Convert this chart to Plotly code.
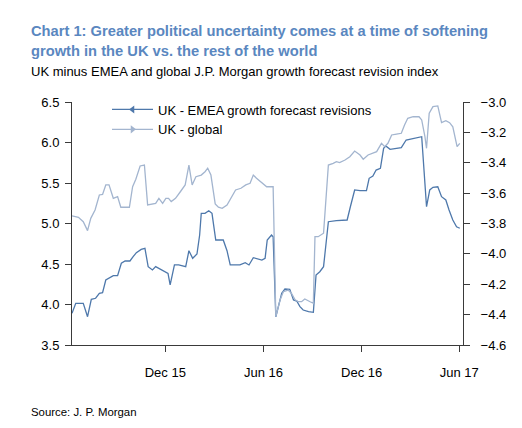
import plotly.graph_objects as go

# ---------------- data ----------------
emea_dates = ["2015-06-10","2015-06-17","2015-07-01","2015-07-09","2015-07-16","2015-07-24","2015-07-31","2015-08-06","2015-08-12","2015-08-18",
              "2015-08-26","2015-09-03","2015-09-10","2015-09-17","2015-09-26","2015-10-02","2015-10-08","2015-10-17","2015-10-24","2015-10-30",
              "2015-11-07","2015-11-13","2015-11-21","2015-11-30","2015-12-06","2015-12-10","2015-12-18","2015-12-26","2016-01-04","2016-01-08",
              "2016-01-14","2016-01-21","2016-01-29","2016-02-03","2016-02-06","2016-02-13","2016-02-20","2016-02-26","2016-03-04","2016-03-14",
              "2016-03-18","2016-03-25","2016-03-31","2016-04-09","2016-04-18","2016-04-28","2016-05-05","2016-05-13","2016-05-19","2016-05-29",
              "2016-06-04","2016-06-08","2016-06-16","2016-06-19","2016-06-24","2016-07-05","2016-07-11","2016-07-20","2016-07-27","2016-08-02",
              "2016-08-08","2016-08-14","2016-08-24","2016-09-02","2016-09-07","2016-09-14","2016-09-21","2016-09-27","2016-09-30","2016-10-15",
              "2016-11-04","2016-11-10","2016-11-18","2016-11-28","2016-12-10","2016-12-15","2016-12-22","2016-12-28","2017-01-05","2017-01-11",
              "2017-01-15","2017-01-23","2017-02-01","2017-02-13","2017-02-22","2017-03-01","2017-03-16","2017-03-23","2017-04-01","2017-04-07",
              "2017-04-13","2017-04-22","2017-04-29","2017-05-07","2017-05-13","2017-05-20","2017-05-27","2017-06-02"]
emea_values = [3.891,4.015,4.015,3.849,4.064,4.077,4.138,4.146,4.302,4.323,
               4.356,4.356,4.509,4.537,4.537,4.590,4.640,4.681,4.694,4.467,
               4.426,4.467,4.435,4.405,4.385,4.241,4.488,4.488,4.475,4.467,
               4.664,4.570,4.623,4.858,5.126,5.126,5.158,5.126,4.796,4.796,
               4.796,4.664,4.488,4.488,4.488,4.516,4.488,4.578,4.570,4.549,
               4.570,4.796,4.858,4.837,3.849,4.138,4.191,4.188,4.056,4.043,
               3.973,3.932,3.911,3.904,4.364,4.405,4.467,4.796,5.022,5.035,
               5.043,5.207,5.414,5.405,5.405,5.558,5.586,5.660,5.681,5.928,
               5.957,5.916,5.928,5.936,6.031,6.040,6.059,6.072,5.207,5.414,
               5.447,5.454,5.331,5.290,5.167,5.043,4.960,4.941]

global_dates = ["2015-06-10","2015-06-22","2015-07-01","2015-07-09","2015-07-15","2015-07-23","2015-07-31","2015-08-06","2015-08-12","2015-08-18",
                "2015-08-26","2015-09-03","2015-09-09","2015-09-20","2015-09-25","2015-10-01","2015-10-07","2015-10-15","2015-10-23","2015-10-29",
                "2015-11-05","2015-11-13","2015-11-19","2015-11-26","2015-12-02","2015-12-07","2015-12-12","2015-12-20","2015-12-29","2016-01-07",
                "2016-01-14","2016-01-20","2016-01-27","2016-02-06","2016-02-13","2016-02-18","2016-02-24","2016-03-03","2016-03-09","2016-03-16",
                "2016-03-25","2016-04-03","2016-04-10","2016-04-20","2016-04-29","2016-05-07","2016-05-13","2016-05-19","2016-05-29","2016-06-04",
                "2016-06-07","2016-06-19","2016-06-24","2016-07-02","2016-07-08","2016-07-17","2016-07-23","2016-07-30","2016-08-05","2016-08-11",
                "2016-08-17","2016-08-27","2016-09-02","2016-09-05","2016-09-11","2016-09-21","2016-09-30","2016-10-09","2016-10-15","2016-10-21",
                "2016-10-31","2016-11-09","2016-11-18","2016-11-28","2016-12-04","2016-12-13","2016-12-22","2016-12-29","2017-01-07","2017-01-13",
                "2017-01-19","2017-01-26","2017-02-04","2017-02-13","2017-02-19","2017-02-25","2017-03-07","2017-03-18","2017-03-23","2017-03-26",
                "2017-03-29","2017-04-01","2017-04-06","2017-04-13","2017-04-22","2017-04-29","2017-05-07","2017-05-14","2017-05-20","2017-05-28",
                "2017-06-02"]
global_values = [-3.750,-3.759,-3.788,-3.847,-3.766,-3.711,-3.612,-3.608,-3.546,-3.546,
                 -3.634,-3.623,-3.693,-3.693,-3.693,-3.558,-3.509,-3.421,-3.415,-3.678,
                 -3.671,-3.667,-3.634,-3.667,-3.634,-3.634,-3.656,-3.634,-3.591,-3.546,
                 -3.415,-3.546,-3.492,-3.481,-3.459,-3.436,-3.481,-3.671,-3.693,-3.700,
                 -3.678,-3.623,-3.579,-3.568,-3.546,-3.535,-3.481,-3.502,-3.531,-3.553,
                 -3.558,-3.558,-4.413,-4.303,-4.249,-4.238,-4.259,-4.303,-4.315,-4.315,
                 -4.297,-4.315,-4.325,-3.887,-3.887,-3.864,-3.415,-3.404,-3.393,-3.399,
                 -3.382,-3.360,-3.323,-3.349,-3.377,-3.349,-3.334,-3.327,-3.272,-3.294,
                 -3.272,-3.217,-3.211,-3.206,-3.151,-3.107,-3.097,-3.097,-3.118,-3.163,
                 -3.228,-3.305,-3.074,-3.031,-3.026,-3.136,-3.123,-3.136,-3.163,-3.294,
                 -3.272]

x_tick_vals = ["2015-12-01", "2016-06-01", "2016-12-01", "2017-06-01"]
x_tick_text = ["Dec 15", "Jun 16", "Dec 16", "Jun 17"]

series_names = ["UK - EMEA growth forecast revisions", "UK - global"]

# ---------------- styling ----------------
DARK = "#4e78ab"
LIGHT = "#a3b5cf"
AXIS = "#3a3a3a"
FONT = "Liberation Sans, Arial, sans-serif"

OFF = 8                      # page body margin of the browser
W, H = 522 - OFF, 428 - OFF  # figure size so that figure + margin fills the window
# plot area in target-picture pixels: x 72..463, y 102..345
L = 72 - OFF
R = W - (463 - OFF)
T = 102 - OFF
B = H - (345 - OFF)
pw, ph = W - L - R, H - T - B


def px(x):
    """target-picture x pixel -> paper coordinate"""
    return (x - OFF - L) / pw


def py(y):
    """target-picture y pixel -> paper coordinate"""
    return (H - B - (y - OFF)) / ph


fig = go.Figure()
fig.add_trace(go.Scatter(x=emea_dates, y=emea_values, mode="lines",
                         line=dict(color=DARK, width=1.3), showlegend=False,
                         yaxis="y"))
fig.add_trace(go.Scatter(x=global_dates, y=global_values, mode="lines",
                         line=dict(color=LIGHT, width=1.3), showlegend=False,
                         yaxis="y2"))
# legend entries
fig.add_trace(go.Scatter(x=[None], y=[None], mode="lines+markers", name=series_names[0],
                         line=dict(color=DARK, width=1.3),
                         marker=dict(symbol="triangle-left", size=7, color=DARK)))
fig.add_trace(go.Scatter(x=[None], y=[None], mode="lines+markers", name=series_names[1],
                         line=dict(color=LIGHT, width=1.3),
                         marker=dict(symbol="triangle-right", size=7, color=LIGHT),
                         yaxis="y2"))

fig.update_layout(
    width=W, height=H,
    margin=dict(l=L, r=R, t=T, b=B, pad=0),
    paper_bgcolor="white", plot_bgcolor="white",
    font=dict(family=FONT, size=13, color="black"),
    xaxis=dict(type="date", range=["2015-06-10", "2017-06-08"],
               tickvals=x_tick_vals, ticktext=x_tick_text,
               showgrid=False, zeroline=False,
               showline=True, linecolor=AXIS, linewidth=1,
               ticks="outside", ticklen=6, tickcolor=AXIS, tickwidth=1,
               ticklabelstandoff=9,
               tickfont=dict(size=13, color="black")),
    yaxis=dict(range=[3.5, 6.5], dtick=0.5, tick0=3.5, tickformat=".1f",
               showgrid=False, zeroline=False,
               showline=True, linecolor=AXIS, linewidth=1,
               ticks="outside", ticklen=6, tickcolor=AXIS, tickwidth=1,
               ticklabelstandoff=3,
               tickfont=dict(size=13, color="black")),
    yaxis2=dict(range=[-4.6, -3.0], dtick=0.2, tick0=-4.6, tickformat=".1f",
                overlaying="y", side="right", anchor="x",
                showgrid=False, zeroline=False,
                showline=True, linecolor=AXIS, linewidth=1,
                ticks="outside", ticklen=6, tickcolor=AXIS, tickwidth=1,
                ticklabelstandoff=8,
                tickfont=dict(size=13, color="black")),
    legend=dict(x=px(107), y=py(94.5), xanchor="left", yanchor="top",
                bgcolor="rgba(0,0,0,0)", borderwidth=0,
                font=dict(size=13, color="black"),
                itemwidth=41, tracegroupgap=0),
)

annotations = [
    dict(text="Chart 1: Greater political uncertainty comes at a time of softening",
         x=px(29), y=py(31), font=dict(size=14.7, color="#5a87c0", family=FONT), bold=True),
    dict(text="growth in the UK vs. the rest of the world",
         x=px(29), y=py(51), font=dict(size=14.7, color="#5a87c0", family=FONT), bold=True),
    dict(text="UK minus EMEA and global J.P. Morgan growth forecast revision index",
         x=px(29), y=py(71), font=dict(size=13, color="black", family=FONT)),
    dict(text="Source: J. P. Morgan",
         x=px(29), y=py(412), font=dict(size=11.4, color="black", family=FONT)),
]
for a in annotations:
    bold = a.pop("bold", False)
    if bold:
        a["text"] = "<b>" + a["text"] + "</b>"
    fig.add_annotation(xref="paper", yref="paper", xanchor="left", yanchor="middle",
                       showarrow=False, **a)

fig.write_html("out.html")
